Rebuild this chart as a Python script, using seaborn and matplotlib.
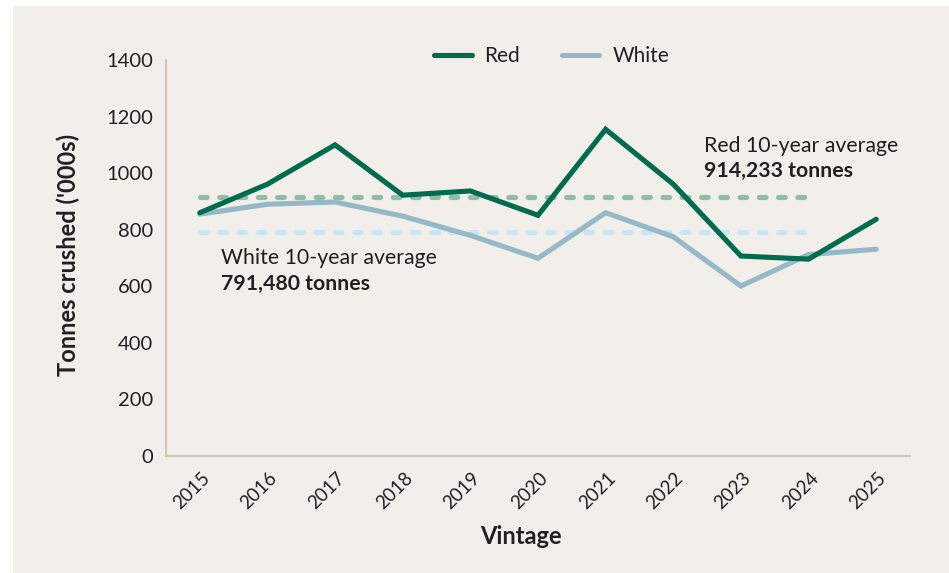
import matplotlib
matplotlib.use("Agg")
import matplotlib.pyplot as plt
import matplotlib.transforms as mtransforms
from matplotlib.patches import Rectangle
from matplotlib.lines import Line2D
import seaborn as sns
import pandas as pd

# Wine grape crush by vintage, thousand tonnes
vintages = ["2015", "2016", "2017", "2018", "2019", "2020",
            "2021", "2022", "2023", "2024", "2025"]
red = [860, 961, 1100, 922, 937, 851, 1155, 961, 707, 696, 837]
white = [855, 890, 898, 848, 780, 699, 860, 775, 601, 712, 731]
red_avg = 914.233
white_avg = 791.480
yticks = [0, 200, 400, 600, 800, 1000, 1200, 1400]

RED_C = "#006B4F"
WHITE_C = "#95B9C8"
RED_AVG_C = "#8DBFA8"
WHITE_AVG_C = "#C7E5F3"
BG = "#F2EFEA"
SPINE = "#D0C7B8"
TXT = "#231F20"

sns.set_theme(style="white")
plt.rcParams["font.family"] = ["Lato", "DejaVu Sans"]

W, H = 949, 573
fig = plt.figure(figsize=(W / 100, H / 100), dpi=100, facecolor="white")
fig.patches.append(Rectangle((13 / W, 0), 1 - 13 / W, 1 - 6 / H,
                             transform=fig.transFigure, facecolor=BG,
                             edgecolor="none", zorder=-10))

ax = fig.add_axes([166 / W, 1 - 456 / H, (910 - 166) / W, (456 - 60) / H])
ax.set_facecolor(BG)

df = pd.DataFrame({
    "pos": list(range(len(vintages))) * 2,
    "tonnes": red + white,
    "variety": ["Red"] * len(red) + ["White"] * len(white),
})

sns.lineplot(data=df, x="pos", y="tonnes", hue="variety",
             palette={"Red": RED_C, "White": WHITE_C},
             hue_order=["White", "Red"], linewidth=3.7,
             solid_capstyle="round", solid_joinstyle="miter",
             ax=ax, legend=False, zorder=3)

# 10-year averages over 2015-2024
span = [0, 9]
dash = (0, (1.3, 2.45))
ax.plot(span, [red_avg, red_avg], color=RED_AVG_C, lw=3.7,
        linestyle=dash, dash_capstyle="round", zorder=2)
ax.plot(span, [white_avg, white_avg], color=WHITE_AVG_C, lw=3.7,
        linestyle=dash, dash_capstyle="round", zorder=2)

ax.set_xlim(-0.5, 10.5)
ax.set_ylim(0, 1400)
ax.set_yticks(yticks)
ax.set_yticklabels([str(v) for v in yticks])
ax.set_xticks(range(len(vintages)))
ax.set_xticklabels(vintages, rotation=45, ha="right", va="center",
                   rotation_mode="anchor")
ax.set_xticks([i + 0.5 for i in range(-1, len(vintages))], minor=True)

for s in ["top", "right"]:
    ax.spines[s].set_visible(False)
for s in ["left", "bottom"]:
    ax.spines[s].set_color(SPINE)
    ax.spines[s].set_linewidth(1.6)

ax.tick_params(axis="y", which="major", direction="in", length=13,
               width=1.6, color=SPINE, labelsize=14.5, labelcolor=TXT, pad=9)
ax.tick_params(axis="x", which="major", length=0, labelsize=13.5,
               labelcolor=TXT, pad=14)
ax.tick_params(axis="x", which="minor", direction="in", length=6.5,
               width=1.6, color=SPINE)

shift = mtransforms.ScaledTranslation(0.07, 0, fig.dpi_scale_trans)
for lab in ax.get_xticklabels():
    lab.set_transform(lab.get_transform() + shift)

ax.set_xlabel("")
ax.set_ylabel("")
fig.text(521 / W, 1 - 536 / H, "Vintage", ha="center", va="center",
         fontsize=17, fontweight="bold", color=TXT)
fig.text(68 / W, 1 - 255 / H, "Tonnes crushed ('000s)", ha="center",
         va="center", rotation=90, fontsize=17, fontweight="bold", color=TXT)

# Legend
handles = [Line2D([], [], color=RED_C, lw=3.7, solid_capstyle="round"),
           Line2D([], [], color=WHITE_C, lw=3.7, solid_capstyle="round")]
fig.legend(handles, ["Red", "White"], loc="center left",
           bbox_to_anchor=(434 / W, 1 - 56 / H), ncol=2, frameon=False,
           fontsize=15, handlelength=1.8, handletextpad=0.62,
           columnspacing=2.0, borderpad=0, borderaxespad=0,
           labelcolor=TXT)

# Average annotations
fig.text(704 / W, 1 - 152 / H, "Red 10-year average", ha="left",
         va="baseline", fontsize=15.3, color=TXT)
fig.text(704 / W, 1 - 177 / H, f"{red_avg * 1000:,.0f} tonnes", ha="left",
         va="baseline", fontsize=15.3, fontweight="bold", color=TXT)
fig.text(221 / W, 1 - 264 / H, "White 10-year average", ha="left",
         va="baseline", fontsize=15.3, color=TXT)
fig.text(221 / W, 1 - 290 / H, f"{white_avg * 1000:,.0f} tonnes", ha="left",
         va="baseline", fontsize=15.3, fontweight="bold", color=TXT)

fig.savefig("out.png", dpi=100, facecolor="white")
